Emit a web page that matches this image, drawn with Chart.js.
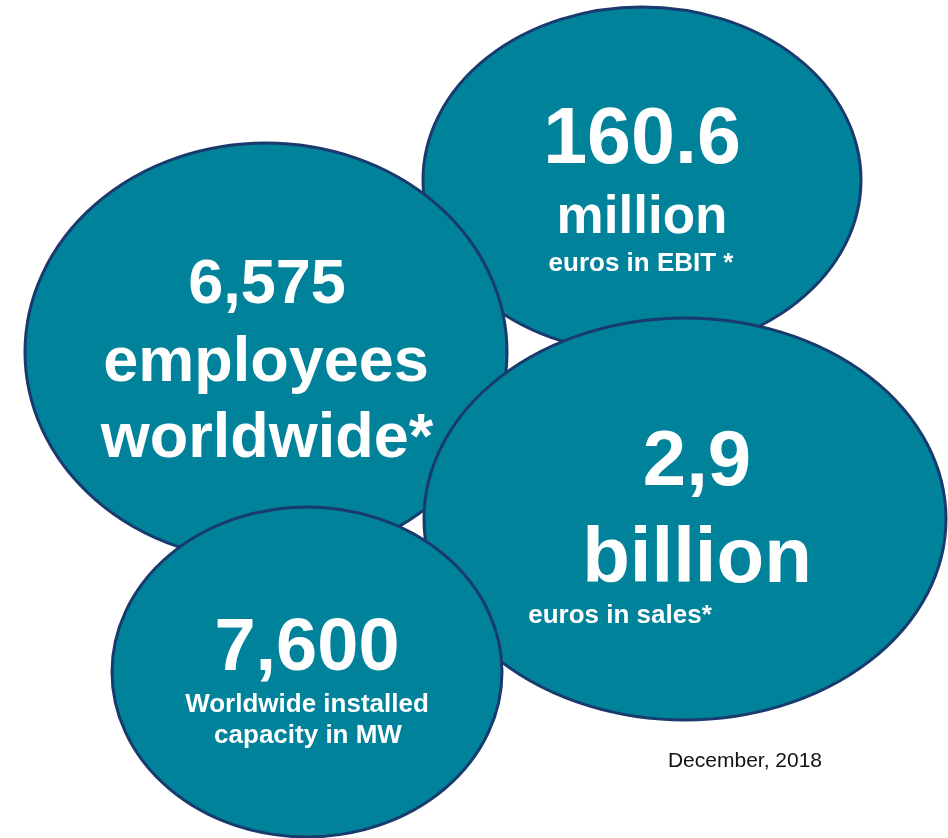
<!DOCTYPE html>
<html>
<head>
<meta charset="utf-8">
<script src="https://cdn.jsdelivr.net/npm/chart.js@4.4.1/dist/chart.umd.min.js"></script>
<style>
  html, body { margin: 0; padding: 0; background: #ffffff; }
  .chart-box { position: relative; width: 948px; height: 838px; }
</style>
</head>
<body>
<div class="chart-box"><canvas id="myChart"></canvas></div>
<script>
// key figures shown in the bubbles (drawn back to front)
const figures = ["160.6", "6,575", "2,9", "7,600"];
const figureUnits = ["million", "employees", "billion", ""];
const figureNotes = ["euros in EBIT *", "worldwide*", "euros in sales*", "Worldwide installed\ncapacity in MW"];
const footNote = "December, 2018";

// bubble centres and radii, in the same units as the axes
const bubbleX = [642, 266, 685, 307];
const bubbleY = [180, 352, 519, 672];
const bubbleRx = [219, 241, 261, 195];
const bubbleRy = [173, 209, 201, 165];

const fillColor = "#00829b";
const edgeColor = "#183a6c";
const fontFamily = "'Liberation Sans', Arial, Helvetica, sans-serif";

// text lines per bubble: [text, size, x, baseline y]
const textLayout = [
  [[figures[0], 79, 642, 163], [figureUnits[0], 53, 642, 233], [figureNotes[0], 26, 641, 271]],
  [[figures[1], 63, 267, 303], [figureUnits[1], 63, 266, 381], [figureNotes[1], 63, 267, 457]],
  [[figures[2], 78, 697, 485], [figureUnits[2], 78, 697, 582], [figureNotes[2], 26, 620, 623]],
  [[figures[3], 74, 307, 670], [figureNotes[3].split("\n")[0], 26, 307, 712], [figureNotes[3].split("\n")[1], 26, 308, 743]],
];

const bubblePlugin = {
  id: "ellipseBubbles",
  afterDatasetsDraw(chart) {
    const ctx = chart.ctx;
    const xs = chart.scales.x;
    const ys = chart.scales.y;
    const meta = chart.getDatasetMeta(0);

    meta.data.forEach((pt, i) => {
      const rx = Math.abs(xs.getPixelForValue(bubbleRx[i]) - xs.getPixelForValue(0));
      const ry = Math.abs(ys.getPixelForValue(bubbleRy[i]) - ys.getPixelForValue(0));
      ctx.save();
      ctx.beginPath();
      ctx.ellipse(pt.x, pt.y, rx, ry, 0, 0, Math.PI * 2);
      ctx.fillStyle = fillColor;
      ctx.fill();
      ctx.lineWidth = 3;
      ctx.strokeStyle = edgeColor;
      ctx.stroke();
      ctx.restore();
    });

    ctx.save();
    ctx.fillStyle = "#ffffff";
    ctx.textAlign = "center";
    ctx.textBaseline = "alphabetic";
    textLayout.forEach((lines) => {
      lines.forEach(([txt, size, x, y]) => {
        if (!txt) return;
        ctx.font = "bold " + size + "px " + fontFamily;
        ctx.fillText(txt, xs.getPixelForValue(x), ys.getPixelForValue(y));
      });
    });

    ctx.fillStyle = "#111111";
    ctx.font = "21px " + fontFamily;
    ctx.fillText(footNote, xs.getPixelForValue(745), ys.getPixelForValue(767));
    ctx.restore();
  },
};

const chartContainer = document.getElementById("myChart").getContext("2d");

const myChart = new Chart(chartContainer, {
  type: "scatter",
  data: {
    labels: figures,
    datasets: [
      {
        label: "Key figures",
        data: bubbleX.map((x, i) => ({ x: x, y: bubbleY[i] })),
        pointRadius: 0,
        pointHoverRadius: 0,
      },
    ],
  },
  options: {
    responsive: true,
    maintainAspectRatio: false,
    animation: false,
    layout: { padding: 0 },
    plugins: {
      legend: { display: false },
      tooltip: { enabled: false },
    },
    scales: {
      x: { type: "linear", min: 0, max: 948, display: false },
      y: { type: "linear", min: 0, max: 838, reverse: true, display: false },
    },
  },
  plugins: [bubblePlugin],
});
</script>
</body>
</html>
